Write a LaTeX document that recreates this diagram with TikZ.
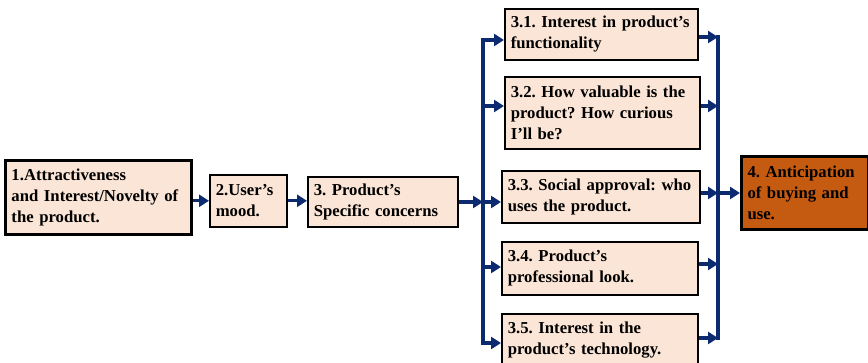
\documentclass[tikz,border=0pt]{standalone}
\usepackage{fontspec}
\setmainfont{Liberation Serif}
\usetikzlibrary{arrows.meta}
\definecolor{boxfill}{HTML}{FBE5D6}
\definecolor{busblue}{HTML}{0B2A6F}
\definecolor{goalfill}{HTML}{C55A11}

% box label font: bold serif, no hyphenation, single space after periods
\newcommand\labelfont{\fontsize{16.7}{21}\selectfont\bfseries\frenchspacing\hyphenpenalty=10000\relax}

\tikzset{
  box/.style={draw=black, line width=1.6pt, fill=boxfill, anchor=north west,
    align=left, inner xsep=6pt, inner ysep=0pt, font=\labelfont},
  heavy/.style={line width=3pt},
  bus/.style={draw=busblue, line width=3.2pt, line cap=rect},
  flow/.style={draw=busblue, line width=3.2pt, -{Triangle[length=10pt,width=12pt]}},
}

\begin{document}
\begin{tikzpicture}[x=1pt,y=-1pt]
\useasboundingbox (0,0) rectangle (868,363);

% main chain
\node[box, heavy, minimum width=186pt, minimum height=74pt, text width=174pt] (b1) at (4,159)
  {1.Attractiveness\\and Interest/Novelty of\\the product.};
\node[box, minimum width=77pt, minimum height=52pt, text width=65pt] (b2) at (209,174)
  {2.User’s\\mood.};
\node[box, minimum width=150pt, minimum height=50pt, text width=138pt] (b3) at (307,176)
  {3. Product’s\\Specific concerns};

% specific concerns
\node[box, minimum width=193pt, minimum height=51pt, text width=181pt] (b31) at (504,8)
  {3.1. Interest in product’s\\functionality};
\node[box, minimum width=195pt, minimum height=72pt, text width=183pt] (b32) at (504,76)
  {3.2. How valuable is the\\product? How curious\\I’ll be?};
\node[box, minimum width=198pt, minimum height=52pt, text width=186pt] (b33) at (501,170)
  {3.3. Social approval: who\\uses the product.};
\node[box, minimum width=196pt, minimum height=53pt, text width=184pt] (b34) at (501,241)
  {3.4. Product’s\\professional look.};
\node[box, minimum width=196pt, minimum height=52pt, text width=184pt] (b35) at (501,313)
  {3.5. Interest in the\\product’s technology.};

% outcome
\node[box, heavy, fill=goalfill, minimum width=127pt, minimum height=73pt, text width=115pt] (b4) at (740,155)
  {4. Anticipation\\of buying and\\use.};

% bus junctions
\coordinate (l1) at (483,40);
\coordinate (l2) at (483,106);
\coordinate (l3) at (483,202);
\coordinate (l4) at (483,267);
\coordinate (l5) at (483,343);
\coordinate (r1) at (718,37);
\coordinate (r2) at (718,106);
\coordinate (r3) at (718,193);
\coordinate (r4) at (718,264);
\coordinate (r5) at (718,338);

\draw[bus] (l1) -- (l5);
\draw[bus] (r1) -- (r5);

% chain arrows
\draw[flow] (b2.west -| b1.east) -- (b2.west);
\draw[flow] (b2.east) -- (b2.east -| b3.west);
\draw[flow] (b3.east |- l3) -- (l3);

% fan out
\draw[flow] (l1) -- (l1 -| b31.west);
\draw[flow] (l2) -- (l2 -| b32.west);
\draw[flow] (l3) -- (l3 -| b33.west);
\draw[flow] (l4) -- (l4 -| b34.west);
\draw[flow] (l5) -- (l5 -| b35.west);

% fan in
\draw[flow] (b31.east |- r1) -- (r1);
\draw[flow] (b32.east |- r2) -- (r2);
\draw[flow] (b33.east |- r3) -- (r3);
\draw[flow] (b34.east |- r4) -- (r4);
\draw[flow] (b35.east |- r5) -- (r5);
\draw[flow] (r3) -- (r3 -| b4.west);
\end{tikzpicture}
\end{document}
